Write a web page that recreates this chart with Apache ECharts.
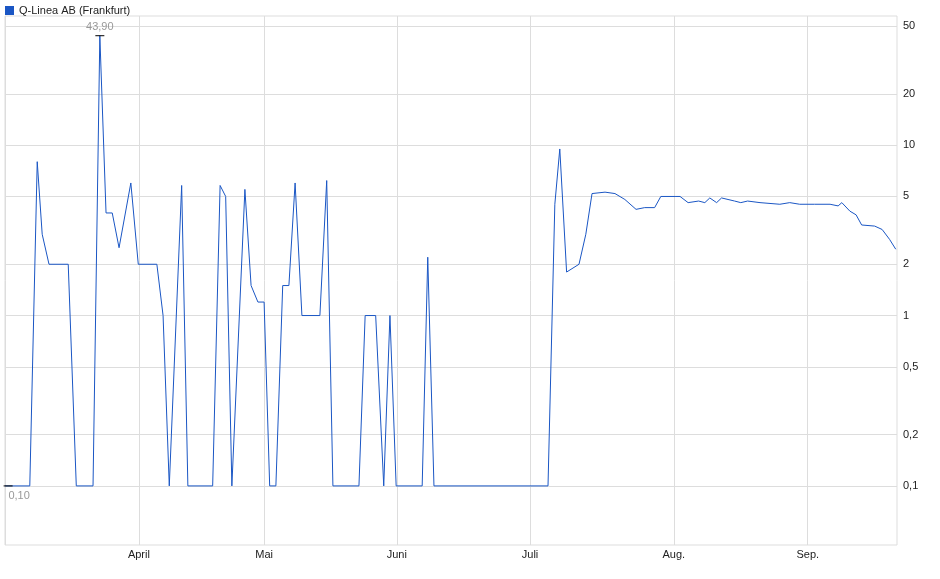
<!DOCTYPE html>
<html><head><meta charset="utf-8">
<script src="https://cdn.jsdelivr.net/npm/echarts@6/dist/echarts.min.js"></script>
<style>html,body{margin:0;padding:0;background:#fff}#c{width:940px;height:579px}</style>
</head><body><div id="c"></div>
<script>
const dayIndex = [0,4.0,5.2,6.0,7.1,10.2,11.5,14.2,15.3,16.3,17.3,18.4,20.3,21.5,24.5,25.5,26.5,28.5,29.5,33.5,34.7,35.6,36.6,38.7,39.7,40.8,41.8,42.7,43.7,44.8,45.8,46.8,47.9,50.8,51.9,52.9,57.1,58.1,59.8,61.1,62.1,63.1,67.3,68.2,69.2,87.6,88.7,89.5,90.6,92.6,93.7,94.7,96.8,98.4,100,101.8,103.2,104.8,105.8,108.1,108.9,110.2,111.9,112.9,113.7,114.8,115.6,117.7,118.7,119.8,121.8,125,126.6,128.2,130.6,133.1,134.4,135,136.3,137.3,138.2,140.3,141.5,142.7,143.7];
const prices = [0.1,0.1,8,3,2,2,0.1,0.1,43.9,4,4,2.5,6,2,2,1,0.1,5.8,0.1,0.1,5.8,5,0.1,5.5,1.5,1.2,1.2,0.1,0.1,1.5,1.5,6,1,1,6.2,0.1,0.1,1,1,0.1,1,0.1,0.1,2.2,0.1,0.1,4.5,9.5,1.8,2,3,5.2,5.3,5.2,4.8,4.2,4.3,4.3,5,5,5,4.6,4.7,4.6,4.9,4.6,4.9,4.7,4.6,4.7,4.6,4.5,4.6,4.5,4.5,4.5,4.4,4.6,4.1,3.9,3.4,3.35,3.2,2.8,2.45];
const monthPos = [21.6,41.8,63.2,84.7,107.9,129.5];
const monthLabels = ['April','Mai','Juni','Juli','Aug.','Sep.'];
const yTickValues = [0.1,0.2,0.5,1,2,5,10,20,50];
const yTickLabels = ['0,1','0,2','0,5','1','2','5','10','20','50'];
const seriesName = 'Q-Linea AB (Frankfurt)';
const maxPoint = {idx:15.3, value:43.9, label:'43,90'};
const minPoint = {idx:0, value:0.1, label:'0,10'};

const L = v => Math.log10(v);
const xMap = {}; monthPos.forEach((p,i)=>xMap[p]=monthLabels[i]);
const yMap = {}; yTickValues.forEach((v,i)=>yMap[L(v).toFixed(4)]=yTickLabels[i]);
const chart = echarts.init(document.getElementById('c'));
chart.setOption({
  animation:false,
  textStyle:{fontFamily:'Liberation Sans, Arial, sans-serif'},
  legend:{left:0,top:0,itemWidth:9,itemHeight:9,icon:'rect',itemGap:4,
    textStyle:{fontSize:11,color:'#222'},data:[seriesName]},
  grid:{left:5,right:43,top:16,bottom:34,show:true,borderColor:'#ddd',borderWidth:1},
  xAxis:{type:'value',min:0,max:143.9,
    axisLine:{show:false},
    axisTick:{show:false,customValues:[0].concat(monthPos)},
    splitLine:{show:true,lineStyle:{color:'#ddd'}},
    axisLabel:{customValues:monthPos,formatter:v=>xMap[v]||'',fontSize:11,color:'#222',margin:4}},
  yAxis:{type:'value',position:'right',min:L(0.045),max:L(57.3),
    axisLine:{show:false},
    axisTick:{show:false,customValues:yTickValues.map(L)},
    splitLine:{show:true,lineStyle:{color:'#ddd'}},
    axisLabel:{customValues:yTickValues.map(L),formatter:v=>yMap[v.toFixed(4)]||'',fontSize:11,color:'#222',margin:6}},
  series:[{name:seriesName,type:'line',showSymbol:false,
    itemStyle:{color:'#1a56c4'},lineStyle:{color:'#1a56c4',width:1},
    data:dayIndex.map((d,i)=>[d,L(prices[i])]),
    markPoint:{symbol:'rect',symbolSize:[9,1],itemStyle:{color:'#000'},
      data:[
        {coord:[maxPoint.idx,L(maxPoint.value)],label:{show:true,formatter:maxPoint.label,color:'#999',fontSize:11,offset:[0,-9]}},
        {coord:[minPoint.idx+0.5,L(minPoint.value)],label:{show:true,formatter:minPoint.label,color:'#999',fontSize:11,offset:[11,10]}}
      ]}
  }]
});
</script></body></html>
